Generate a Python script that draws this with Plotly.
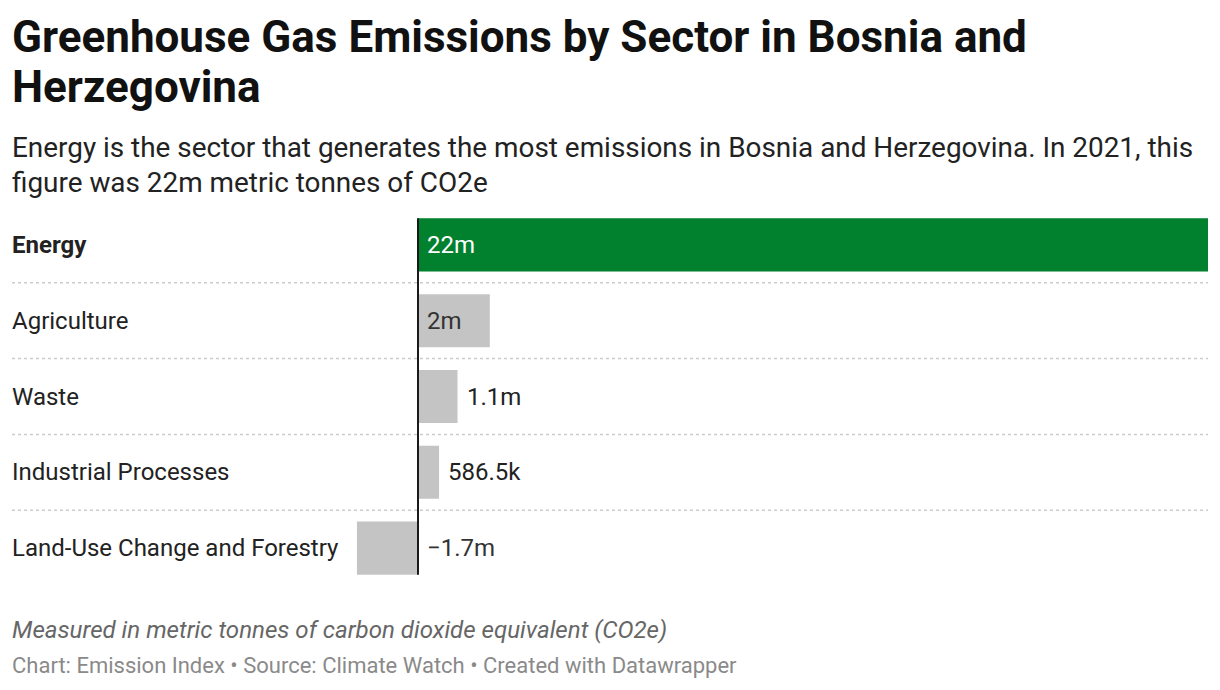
import plotly.graph_objects as go

sectors = ["Energy", "Agriculture", "Waste", "Industrial Processes", "Land-Use Change and Forestry"]
values = [22.0, 2.0, 1.1, 0.5865, -1.7]  # million tonnes CO2e
value_labels = ["22m", "2m", "1.1m", "586.5k", "\u22121.7m"]
bar_colors = ["#01802e", "#c4c4c4", "#c4c4c4", "#c4c4c4", "#c4c4c4"]

# page body has an 8px margin, so the figure is sized to fit inside the window
OFF = 8
W, H = 1220 - 2 * OFF, 690 - 2 * OFF
ML, MR = 12 - OFF, 12 - OFF
MT = 206.5 - OFF
MB = H - (586.5 - OFF)
plot_h = H - MT - MB

def py(pix):
    # screen pixel row -> paper y
    return (H - MB - (pix - OFF)) / plot_h

fig = go.Figure()
fig.add_trace(go.Bar(
    x=values, y=sectors, orientation="h",
    marker=dict(color=bar_colors, line=dict(width=0)),
    hoverinfo="skip",
))

# zero sits 406px into the 1196px plot width, 22m at the right edge
xmax = 22.0
frac = 406 / (W - ML - MR)
xmin = -frac * xmax / (1 - frac)

annotations = []
for i, (s, v, lab) in enumerate(zip(sectors, values, value_labels)):
    annotations.append(dict(
        x=0, xref="paper", y=s, yref="y", text=f"<b>{s}</b>" if i == 0 else s,
        xanchor="left", yanchor="middle", showarrow=False, xshift=-2,
        font=dict(size=24, color="#222222", family="Roboto"),
    ))
    # inside when the bar is long enough, otherwise just outside; negatives right of zero
    if v < 0:
        x, col = 0, "#333333"
    elif v > 1.5:
        x, col = 0, ("#ffffff" if i == 0 else "#333333")
    else:
        x, col = v, "#222222"
    annotations.append(dict(
        x=x, xref="x", y=s, yref="y", text=lab, xanchor="left", yanchor="middle",
        xshift=7, showarrow=False, font=dict(size=24, color=col, family="Roboto"),
    ))

title_lines = ["Greenhouse Gas Emissions by Sector in Bosnia and", "Herzegovina"]
for t, yc in zip(title_lines, [36, 86]):
    annotations.append(dict(
        x=0, xref="paper", y=py(yc), yref="paper", text=f"<b>{t}</b>",
        xanchor="left", yanchor="middle", showarrow=False, xshift=-2,
        font=dict(size=44, color="#111111", family="Roboto"),
    ))
sub_lines = ["Energy is the sector that generates the most emissions in Bosnia and Herzegovina. In 2021, this",
             "figure was 22m metric tonnes of CO2e"]
for t, yc in zip(sub_lines, [147, 182]):
    annotations.append(dict(
        x=0, xref="paper", y=py(yc), yref="paper", text=t,
        xanchor="left", yanchor="middle", showarrow=False, xshift=-2,
        font=dict(size=27.9, color="#222222", family="Roboto"),
    ))
annotations.append(dict(
    x=0, xref="paper", y=py(631), yref="paper",
    text="<i>Measured in metric tonnes of carbon dioxide equivalent (CO2e)</i>",
    xanchor="left", yanchor="middle", showarrow=False, xshift=-2,
    font=dict(size=24.1, color="#666666", family="Roboto"),
))
annotations.append(dict(
    x=0, xref="paper", y=py(666), yref="paper",
    text="Chart: Emission Index \u2022 Source: Climate Watch \u2022 Created with Datawrapper",
    xanchor="left", yanchor="middle", showarrow=False, xshift=-2,
    font=dict(size=22, color="#8a8a8a", family="Roboto"),
))

shapes = []
for k in range(len(sectors) - 1):
    shapes.append(dict(
        type="line", xref="paper", yref="y", x0=0, x1=1, y0=k + 0.5, y1=k + 0.5,
        line=dict(color="#cccccc", width=1.5, dash="dot"), layer="below",
    ))
shapes.append(dict(
    type="line", xref="x", yref="y", x0=0, x1=0, y0=-0.35, y1=len(sectors) - 1 + 0.35,
    line=dict(color="#1a1a1a", width=2),
))

fig.update_layout(
    width=W, height=H,
    margin=dict(l=ML, r=MR, t=MT, b=MB),
    paper_bgcolor="white", plot_bgcolor="white",
    showlegend=False, bargap=0.30,
    xaxis=dict(range=[xmin, xmax], visible=False, fixedrange=True),
    yaxis=dict(autorange="reversed", visible=False, fixedrange=True),
    annotations=annotations, shapes=shapes,
    font=dict(family="Roboto"),
)

fig.write_html("out.html")
